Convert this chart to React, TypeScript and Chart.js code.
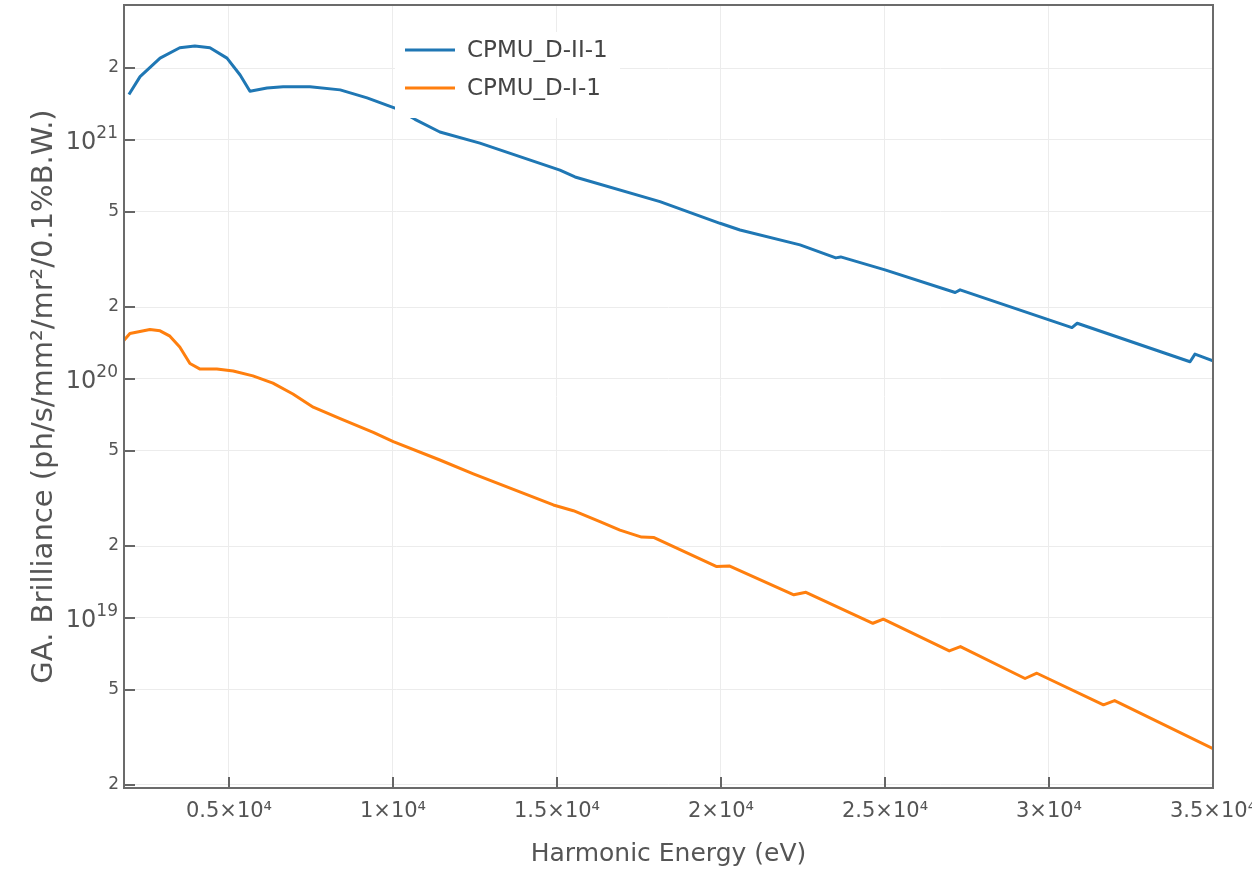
import React, { useEffect, useRef } from "react";
import { Chart, registerables } from "chart.js";

Chart.register(...registerables);

const FONT = "'DejaVu Sans', Verdana, sans-serif";

// Series: CPMU_D-II-1 (blue)
const blueEnergy = [
  1950, 2290, 2900, 3500, 3960, 4420, 4940, 5340, 5640, 6160, 6650, 7470, 8390, 9210,
  10060, 10670, 11430, 12650, 15090, 15550, 18140, 19970, 20580, 22410, 23500, 23650,
  25000, 27140, 27290, 30700, 30860, 34300, 34450, 35000,
];
const blueBrilliance = [
  1.55e21, 1.84e21, 2.2e21, 2.43e21, 2.47e21, 2.43e21, 2.2e21, 1.87e21, 1.6e21, 1.65e21,
  1.67e21, 1.67e21, 1.62e21, 1.5e21, 1.36e21, 1.22e21, 1.08e21, 9.7e20, 7.48e20, 7.0e20,
  5.52e20, 4.48e20, 4.2e20, 3.64e20, 3.21e20, 3.24e20, 2.86e20, 2.3e20, 2.36e20, 1.64e20,
  1.71e20, 1.18e20, 1.27e20, 1.19e20,
];

// Series: CPMU_D-I-1 (orange)
const orangeEnergy = [
  1800, 1980, 2590, 2900, 3200, 3500, 3810, 4120, 4630, 5130, 5730, 6340, 6950, 7570,
  8390, 9400, 10010, 11430, 12450, 14890, 15500, 16310, 16920, 17580, 17960, 19870,
  20250, 22220, 22590, 24630, 24950, 26960, 27300, 29270, 29630, 31660, 32000, 35000,
];
const orangeBrilliance = [
  1.45e20, 1.55e20, 1.61e20, 1.59e20, 1.51e20, 1.36e20, 1.16e20, 1.1e20, 1.1e20, 1.08e20,
  1.03e20, 9.6e19, 8.65e19, 7.62e19, 6.82e19, 5.98e19, 5.47e19, 4.58e19, 4.01e19, 2.97e19,
  2.81e19, 2.53e19, 2.33e19, 2.18e19, 2.17e19, 1.64e19, 1.65e19, 1.25e19, 1.28e19, 9.5e18,
  9.88e18, 7.28e18, 7.59e18, 5.58e18, 5.87e18, 4.33e18, 4.51e18, 2.84e18,
];

const seriesLabels = ["CPMU_D-II-1", "CPMU_D-I-1"];
const seriesColors = ["#1f77b4", "#ff7f0e"];

const xTickValues = [5000, 10000, 15000, 20000, 25000, 30000, 35000];
const xTickLabels = ["0.5×10⁴", "1×10⁴", "1.5×10⁴", "2×10⁴", "2.5×10⁴", "3×10⁴", "3.5×10⁴"];
const yTickValues = [2e18, 5e18, 1e19, 2e19, 5e19, 1e20, 2e20, 5e20, 1e21, 2e21];
const yTickLabels = ["2", "5", "10^19", "2", "5", "10^20", "2", "5", "10^21", "2"];

const xTitle = "Harmonic Energy (eV)";
const yTitle = "GA. Brilliance (ph/s/mm²/mr²/0.1%B.W.)";

const xMin = 1800;
const xMax = 35000;
const yMin = 1.943e18;
const yMax = 3.67e21;

function yIndex(v: number) {
  return yTickValues.findIndex((t) => Math.abs(v / t - 1) < 1e-6);
}

const frameLegendPlugin = {
  id: "frameLegend",
  afterDraw(chart: any) {
    const { ctx, chartArea: a, scales } = chart;
    ctx.save();

    // decade labels of the y axis (10 with superscript exponent)
    yTickValues.forEach((v, i) => {
      const lab = yTickLabels[i];
      if (!lab.includes("^")) return;
      const [base, exp] = lab.split("^");
      const py = scales.y.getPixelForValue(v);
      const rx = a.left - 6;
      ctx.fillStyle = "#555555";
      ctx.textAlign = "right";
      ctx.textBaseline = "alphabetic";
      ctx.font = `17px ${FONT}`;
      const ew = ctx.measureText(exp).width;
      ctx.fillText(exp, rx, py - 2);
      ctx.font = `24px ${FONT}`;
      ctx.fillText(base, rx - ew, py + 9);
    });

    // tick marks, pointing into the plot
    ctx.strokeStyle = "#666666";
    ctx.lineWidth = 2;
    ctx.beginPath();
    yTickValues.forEach((v) => {
      const py = Math.round(scales.y.getPixelForValue(v));
      ctx.moveTo(a.left, py);
      ctx.lineTo(a.left + 11, py);
    });
    xTickValues.forEach((v) => {
      const px = Math.round(scales.x.getPixelForValue(v));
      ctx.moveTo(px, a.bottom);
      ctx.lineTo(px, a.bottom - 11);
    });
    ctx.stroke();

    // legend box inside plot
    ctx.fillStyle = "#ffffff";
    ctx.fillRect(a.left + 271, a.top + 27, 225, 86);
    chart.data.datasets.forEach((ds: any, i: number) => {
      const cy = a.top + 45 + i * 38;
      ctx.strokeStyle = ds.borderColor;
      ctx.lineWidth = 3;
      ctx.beginPath();
      ctx.moveTo(a.left + 281, cy);
      ctx.lineTo(a.left + 331, cy);
      ctx.stroke();
      ctx.fillStyle = "#444444";
      ctx.font = `23px ${FONT}`;
      ctx.textBaseline = "middle";
      ctx.textAlign = "left";
      ctx.fillText(ds.label, a.left + 343, cy + 1);
    });

    // frame
    ctx.strokeStyle = "#6b6b6b";
    ctx.lineWidth = 2;
    ctx.strokeRect(a.left, a.top, a.right - a.left, a.bottom - a.top);
    ctx.restore();
  },
};

export default function App() {
  const ref = useRef<HTMLCanvasElement>(null);

  useEffect(() => {
    if (!ref.current) return;
    const chart = new Chart(ref.current, {
      type: "line",
      data: {
        datasets: [
          {
            label: seriesLabels[0],
            data: blueEnergy.map((x, i) => ({ x, y: blueBrilliance[i] })),
            borderColor: seriesColors[0],
            backgroundColor: seriesColors[0],
          },
          {
            label: seriesLabels[1],
            data: orangeEnergy.map((x, i) => ({ x, y: orangeBrilliance[i] })),
            borderColor: seriesColors[1],
            backgroundColor: seriesColors[1],
          },
        ],
      },
      options: {
        animation: false,
        responsive: false,
        layout: { padding: { top: 5, right: 39, left: 0, bottom: 0 } },
        plugins: { legend: { display: false }, tooltip: { enabled: false } },
        elements: {
          point: { radius: 0 },
          line: { tension: 0, borderWidth: 3, borderJoinStyle: "round" },
        },
        scales: {
          x: {
            type: "linear",
            min: xMin,
            max: xMax,
            afterBuildTicks: (s: any) => {
              s.ticks = xTickValues.map((value) => ({ value }));
            },
            afterFit: (s: any) => {
              s.height = 82;
              s.paddingLeft = 0;
              s.paddingRight = 0;
            },
            grid: { color: "#ececec", lineWidth: 1, drawTicks: false },
            border: { display: false },
            ticks: {
              autoSkip: false,
              maxRotation: 0,
              padding: 11,
              color: "#555555",
              font: { family: FONT, size: 21 },
              callback: (v: any) => xTickLabels[xTickValues.indexOf(Number(v))] ?? "",
            },
            title: {
              display: true,
              text: xTitle,
              color: "#555555",
              font: { family: FONT, size: 25 },
              padding: { top: 0, bottom: 1 },
            },
          },
          y: {
            type: "logarithmic",
            min: yMin,
            max: yMax,
            afterBuildTicks: (s: any) => {
              s.ticks = yTickValues.map((value) => ({ value }));
            },
            afterFit: (s: any) => {
              s.width = 124;
              s.paddingTop = 0;
              s.paddingBottom = 0;
            },
            grid: { color: "#ececec", lineWidth: 1, drawTicks: false },
            border: { display: false },
            ticks: {
              autoSkip: false,
              padding: 5,
              color: "#555555",
              font: { family: FONT, size: 17 },
              callback: (v: any) => {
                const i = yIndex(Number(v));
                return i >= 0 && !yTickLabels[i].includes("^") ? yTickLabels[i] : "";
              },
            },
            title: {
              display: true,
              text: yTitle,
              color: "#555555",
              font: { family: FONT, size: 29 },
              padding: { top: 27, bottom: 0 },
            },
          },
        },
      },
      plugins: [frameLegendPlugin],
    } as any);
    return () => chart.destroy();
  }, []);

  return (
    <div style={{ position: "absolute", left: 0, top: 0, width: 1252, height: 870, background: "#fff" }}>
      <canvas ref={ref} width={1252} height={870} style={{ display: "block", width: 1252, height: 870 }} />
    </div>
  );
}
